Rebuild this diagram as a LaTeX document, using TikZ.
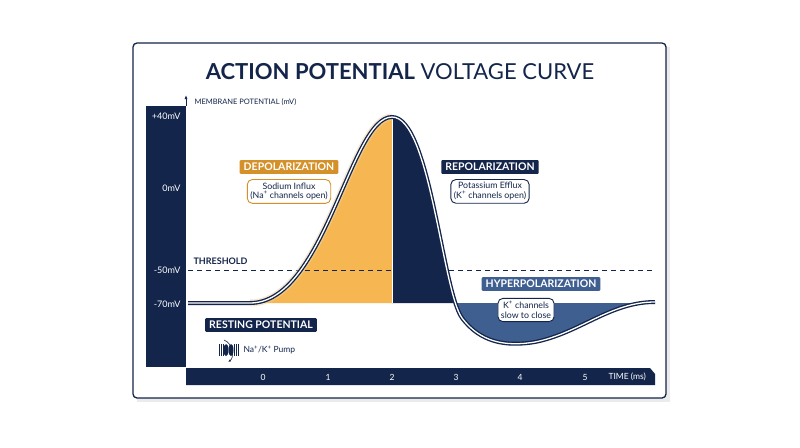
\documentclass[tikz,border=0pt]{standalone}
\usepackage{fontspec}
\setmainfont{Lato}
\usetikzlibrary{positioning,calc,arrows.meta}
\definecolor{navy}{HTML}{13254A}
\definecolor{ochre}{HTML}{D4912A}
\definecolor{apricot}{HTML}{F6B752}
\definecolor{slate}{HTML}{3F5F91}
\tikzset{
  tag/.style={fill=#1, text=white, font=\bfseries\fontsize{10.5}{11}\selectfont, inner xsep=4pt, inner ysep=3pt, rounded corners=1pt},
  note/.style={draw=#1, fill=white, line width=0.9pt, rounded corners=5pt, align=center, font=\fontsize{8.8}{9.8}\selectfont, text=navy, inner sep=3pt},
  tick/.style={text=white, font=\fontsize{8.5}{9}\selectfont},
  mv/.style={text=white, font=\fontsize{9}{10}\selectfont, anchor=east}
}
\newcommand{\apcurve}{(188,303) -- (250,303) .. controls (325,303) and (350,117) .. (392,117) .. controls (430,117) and (442,290) .. (462,318) .. controls (480,342) and (505,347) .. (535,342) .. controls (580,333) and (610,302) .. (655,302)}
\begin{document}
\begin{tikzpicture}[x=1pt,y=-1pt]
    \useasboundingbox (0,0) rectangle (800,447);
    % card
    \fill[black!8] (137,47) rectangle (670,402);
    \draw[navy, line width=1.3pt, fill=white, rounded corners=4pt] (133,43) rectangle (666,398);
    \node (title) at (400,72) {\fontsize{22}{24}\selectfont\color{navy}\textbf{ACTION POTENTIAL} VOLTAGE CURVE};
    % fills
    \begin{scope}
      \clip (188,100) rectangle (392,303);
      \fill[apricot] \apcurve -- (655,303) -- (188,303) -- cycle;
    \end{scope}
    \begin{scope}
      \clip (392,100) rectangle (462,303);
      \fill[navy] \apcurve -- (655,303) -- (188,303) -- cycle;
    \end{scope}
    \begin{scope}
      \clip (455,303) rectangle (655,360);
      \fill[slate] \apcurve -- (655,303) -- (188,303) -- cycle;
    \end{scope}
    \draw[white, line width=0.8pt] (392,117) -- (392,303);
    % axes
    \fill[navy] (146,106) rectangle (186,367);
    \fill[navy] (186,368) -- (650,368) -- (655,374) -- (655,385) -- (186,385) -- cycle;
    \draw[navy, line width=0.8pt, -{Latex[length=4pt]}] (186,106) -- (186,95);
    \node[anchor=west, text=navy, font=\fontsize{7.5}{8}\selectfont] (ylab) at (191,102) {MEMBRANE POTENTIAL (mV)};
    \node[mv] (p40) at (184,116) {+40mV};
    \node[mv] (p0) at (184,188) {0mV};
    \node[mv] (m50) at (184,270) {-50mV};
    \node[mv] (m70) at (184,304) {-70mV};
    \foreach \t/\x in {0/263,1/328,2/392,3/456,4/520,5/585}
      \node[tick] (t\t) at (\x,377) {\t};
    \node[tick, anchor=west] (tlab) at (605,377) {TIME (ms)};
    % threshold
    \draw[navy, dashed, line width=0.8pt, dash pattern=on 5pt off 4pt] (188,270) -- (655,270);
    \node[anchor=west, text=navy, font=\bfseries\fontsize{9}{10}\selectfont] (thr) at (190,261) {THRESHOLD};
    % curve
    \draw[ochre!40, line width=7pt, opacity=0.5] (250,303) .. controls (325,303) and (350,117) .. (392,117);
    \draw[navy, line width=4pt] \apcurve;
    \draw[white, line width=1.3pt] \apcurve;
    % labels
    \node[tag=ochre] (dep) at (289,167) {DEPOLARIZATION};
    \node[note=ochre, below=5pt of dep] (na) {Sodium Influx\\(Na\textsuperscript{+} channels open)};
    \node[tag=navy] (rep) at (490,167) {REPOLARIZATION};
    \node[note=navy, below=5pt of rep] (k) {Potassium Efflux\\(K\textsuperscript{+} channels open)};
    \node[tag=slate] (hyp) at (541,284) {HYPERPOLARIZATION};
    \node[note=navy] (slow) at (526,310) {K\textsuperscript{+} channels\\slow to close};
    \node[tag=navy] (rest) at (261,325) {RESTING POTENTIAL};
    % pump
    \foreach \dx in {-9,-7,-5,6,8,10}
      \draw[navy, line width=0.6pt] (228+\dx,344) -- (228+\dx,356);
    \fill[navy] (226,350) ellipse (2.5pt and 6pt);
    \fill[navy] (231,350) ellipse (2.5pt and 6pt);
    \draw[navy, line width=0.6pt, -{Latex[length=3pt]}] (224,340) .. controls (234,344) and (234,358) .. (228,362);
    \node[anchor=west, text=navy, font=\fontsize{8.5}{9}\selectfont] (pump) at (240,350) {Na\textsuperscript{+}/K\textsuperscript{+} Pump};
\end{tikzpicture}
\end{document}
